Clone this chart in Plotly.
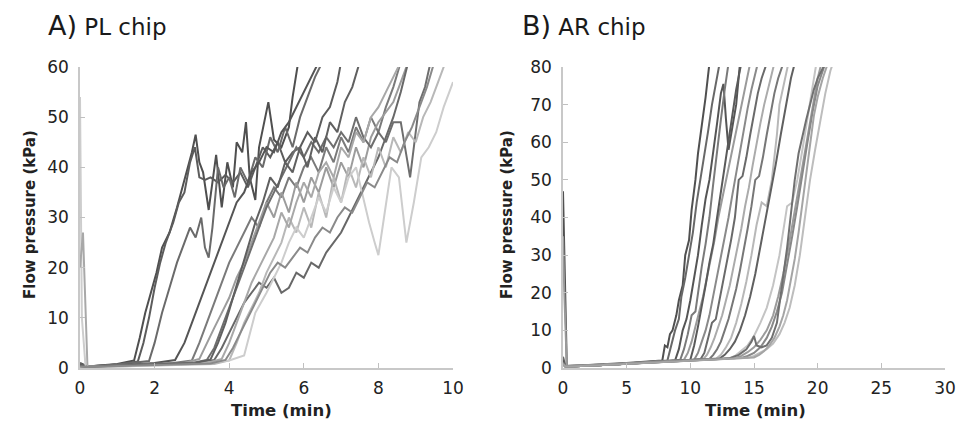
import plotly.graph_objects as go

# ---------------- Panel A: PL chip (time in min, pressure in kPa) ----------------
A1_t = [0, 0.2, 1.0, 1.45, 1.6, 1.75, 1.9, 2.05, 2.2, 2.4, 2.6, 2.75, 2.9, 3.0, 3.1, 3.2, 3.3, 3.45, 3.55, 3.65, 3.8, 3.95, 4.1, 4.2, 4.35, 4.45, 4.55, 4.7, 4.8, 4.95, 5.05, 5.2, 5.4, 5.6, 5.7, 5.85]
A1_p = [1, 0.3, 0.8, 1.5, 6, 11, 15, 19, 24, 27, 32, 36, 40, 43, 46.5, 41, 39, 31.5, 37, 42.5, 32, 41, 36, 45, 43, 49, 38, 33.5, 44, 49, 53, 45.5, 44, 48, 54, 61]

A2_t = [0, 0.2, 1.0, 1.55, 1.7, 1.85, 2.0, 2.15, 2.3, 2.5, 2.65, 2.8, 2.95, 3.08, 3.2, 3.35, 3.5, 3.7, 3.9, 4.1, 4.3, 4.5, 4.7, 4.9, 5.1, 5.3, 5.5, 5.7, 5.9, 6.1, 6.3, 6.5, 6.7, 6.9, 7.0]
A2_p = [0.5, 0.3, 0.7, 1.3, 5, 10, 16, 21, 25, 29, 33, 35, 41, 44, 38, 37.5, 38, 37, 38.5, 37, 39, 36, 40, 44, 42, 45, 41, 43, 44, 47, 45, 50, 52, 57, 61]

A3_t = [0, 0.2, 1.0, 1.85, 2.0, 2.2, 2.4, 2.6, 2.8, 2.95, 3.1, 3.25, 3.35, 3.45, 3.55, 3.7, 3.85, 4.0, 4.15, 4.3, 4.5, 4.7, 4.9, 5.1, 5.3, 5.5, 5.7, 5.9, 6.1, 6.3, 6.5]
A3_p = [0.8, 0.3, 0.7, 1.4, 5, 11, 16, 21, 25, 28, 26, 30, 24, 22, 28, 40, 36, 38, 34, 40, 37, 42, 40, 46, 43, 48, 44, 50, 54, 58, 61]

A4_t = [0, 0.2, 1.0, 2.0, 2.55, 2.8, 3.0, 3.2, 3.4, 3.6, 3.8, 4.0, 4.2, 4.4, 4.6, 4.8, 5.0, 5.2, 5.4, 5.6, 5.8, 6.0, 6.2, 6.4]
A4_p = [0.6, 0.2, 0.5, 1.0, 1.6, 5, 9, 13, 17, 21, 25, 29, 33, 35, 39, 41, 44, 43, 47, 49, 52, 55, 58, 61]

A5_t = [0, 0.2, 1.0, 2.5, 3.0, 3.2, 3.4, 3.6, 3.8, 4.0, 4.2, 4.4, 4.6, 4.8, 5.0, 5.2, 5.4, 5.6, 5.8, 6.0, 6.2, 6.4, 6.6, 6.8, 7.0, 7.2, 7.4, 7.6, 7.8, 8.0, 8.2, 8.4, 8.6]
A5_p = [0.4, 0.2, 0.5, 1.0, 1.5, 5, 9, 13, 17, 21, 24, 27, 30, 28, 33, 36, 34, 38, 36, 40, 42, 39, 44, 41, 46, 43, 48, 45, 50, 47, 52, 56, 61]

A6_t = [0, 0.2, 1.0, 2.8, 3.2, 3.4, 3.6, 3.8, 4.0, 4.2, 4.4, 4.6, 4.8, 5.0, 5.2, 5.4, 5.6, 5.8, 6.0, 6.2, 6.4, 6.6, 6.8, 7.0, 7.2, 7.4, 7.6, 7.8, 8.0, 8.2, 8.4, 8.6, 8.8]
A6_p = [0.3, 0.2, 0.4, 1.0, 1.8, 5, 8, 11, 14, 18, 21, 25, 29, 33, 30, 35, 31, 37, 33, 38, 35, 40, 36, 41, 38, 44, 40, 46, 49, 51, 53, 57, 61]

A7_t = [0, 0.2, 1.0, 3.0, 3.4, 3.6, 3.8, 4.0, 4.2, 4.4, 4.6, 4.8, 5.0, 5.2, 5.4, 5.6, 5.8, 6.0, 6.2, 6.4, 6.6, 6.8, 7.0, 7.2, 7.4, 7.6, 7.8, 8.0, 8.2, 8.4, 8.6, 8.85, 9.1, 9.25, 9.4]
A7_p = [0.4, 0.2, 0.5, 1.0, 1.6, 4, 8, 12, 16, 20, 24, 28, 32, 35, 38, 41, 44, 42, 45, 43, 46, 44, 47, 45, 50, 46, 44, 47, 45, 49, 49, 38, 53, 56, 61]

A8_t = [0, 0.2, 1.0, 3.2, 3.6, 3.8, 4.0, 4.2, 4.4, 4.6, 4.8, 5.0, 5.2, 5.4, 5.6, 5.8, 6.0, 6.2, 6.4, 6.6, 6.8, 7.0, 7.2, 7.4, 7.6, 7.8, 8.0, 8.2, 8.4, 8.6, 8.8]
A8_p = [0.5, 0.2, 0.5, 1.0, 1.6, 4, 7, 10, 13, 15, 17, 16, 18, 15, 16, 19, 18, 21, 20, 23, 25, 27, 30, 33, 36, 39, 42, 46, 50, 55, 61]

A9_t = [0, 0.2, 1.0, 3.6, 4.0, 4.2, 4.4, 4.6, 4.8, 5.0, 5.2, 5.4, 5.6, 5.8, 6.0, 6.2, 6.4, 6.6, 6.8, 7.0, 7.2, 7.4, 7.6, 7.8, 8.0, 8.2, 8.4, 8.6, 8.8, 9.0, 9.2, 9.4, 9.6, 9.8]
A9_p = [0.3, 0.1, 0.3, 0.8, 1.5, 5, 9, 12, 15, 19, 22, 25, 30, 27, 32, 28, 35, 30, 38, 33, 40, 36, 42, 38, 44, 40, 46, 43, 47, 45, 50, 53, 57, 61]

A10_t = [0, 0.05, 0.15, 1.0, 3.0, 4.0, 4.4, 4.55, 4.7, 4.85, 5.0, 5.2, 5.4, 5.6, 5.8, 6.0, 6.2, 6.4, 6.6, 6.8, 7.0, 7.2, 7.4, 7.55, 7.75, 7.9, 8.0, 8.15, 8.35, 8.55, 8.75, 8.95, 9.15, 9.35, 9.55, 9.75, 10.0]
A10_p = [54, 10, 0.2, 0.3, 0.8, 1.5, 2.5, 7, 11, 13, 15, 18, 21, 25, 28, 26, 30, 34, 31, 36, 33, 38, 40, 35, 29, 25, 22.5, 30, 40, 38, 25, 33, 42, 44, 47, 52, 57]

A11_t = [0, 0.08, 0.2, 1.0, 3.4, 3.8, 4.0, 4.2, 4.4, 4.6, 4.8, 5.0, 5.2, 5.4, 5.6, 5.8, 6.0, 6.2, 6.4, 6.6, 6.8, 7.0, 7.2, 7.4, 7.6, 7.8, 8.0, 8.2, 8.4, 8.6]
A11_p = [20, 27, 0.3, 0.5, 1.0, 1.8, 5, 9, 13, 17, 20, 23, 26, 31, 28, 33, 37, 34, 39, 41, 38, 44, 42, 47, 45, 50, 52, 55, 58, 61]

A12_t = [0, 0.2, 1.0, 3.1, 3.5, 3.7, 3.9, 4.1, 4.3, 4.5, 4.7, 4.9, 5.1, 5.3, 5.5, 5.7, 5.9, 6.1, 6.3, 6.5, 6.7, 6.9, 7.1, 7.3, 7.5]
A12_p = [0.4, 0.2, 0.5, 1.0, 1.7, 5, 9, 14, 19, 24, 29, 33, 38, 36, 41, 39, 44, 40, 46, 43, 49, 47, 53, 56, 61]

A13_t = [0, 0.2, 1.0, 3.5, 3.9, 4.1, 4.3, 4.5, 4.7, 4.9, 5.1, 5.3, 5.5, 5.7, 5.9, 6.1, 6.3, 6.5, 6.7, 6.9, 7.1, 7.3, 7.5, 7.7, 7.9, 8.1, 8.3, 8.5, 8.7, 8.9, 9.1, 9.3, 9.5]
A13_p = [0.3, 0.2, 0.4, 0.9, 1.6, 4, 7, 10, 13, 16, 19, 21, 20, 22, 24, 23, 26, 28, 27, 30, 32, 31, 34, 37, 36, 39, 42, 41, 45, 48, 52, 56, 61]

# ---------------- Panel B: AR chip ----------------
B1_t = [0, 0.1, 0.3, 2, 5, 7.8, 8.0, 8.2, 8.4, 8.6, 8.9, 9.1, 9.4, 9.6, 9.9, 10.1, 10.4, 10.6, 10.9, 11.2, 11.5]
B1_p = [47, 30, 0.5, 0.8, 1.3, 2, 6, 5.5, 9, 10, 14, 18, 22, 30, 34, 42, 50, 57, 64, 72, 81]

B2_t = [0, 0.2, 2, 5, 8.2, 8.5, 8.8, 9.1, 9.3, 9.6, 9.9, 10.2, 10.5, 10.8, 11.1, 11.4, 11.7, 12.0, 12.3]
B2_p = [3, 0.5, 0.7, 1.2, 2, 6, 10, 13, 19, 24, 30, 36, 44, 50, 56, 63, 70, 76, 81]

B3_t = [0, 0.2, 2, 5, 8.8, 9.1, 9.4, 9.7, 10.0, 10.3, 10.6, 10.9, 11.2, 11.5, 11.8, 12.1, 12.4, 12.6, 12.8, 13.0, 13.3, 13.6, 13.9]
B3_p = [2, 0.4, 0.6, 1.1, 2, 5, 10, 13, 18, 24, 30, 38, 45, 50, 57, 65, 73, 75.5, 66, 58, 64, 70, 81]

B4_t = [0, 0.2, 2, 5, 9.2, 9.5, 9.8, 10.1, 10.4, 10.6, 10.9, 11.2, 11.5, 11.8, 12.1, 12.4, 12.7, 13.0]
B4_p = [1.5, 0.4, 0.6, 1.1, 2.1, 5, 9, 14, 15, 20, 27, 33, 40, 49, 58, 66, 74, 81]

B5_t = [0, 0.1, 0.3, 2, 5, 9.5, 9.8, 10.1, 10.4, 10.7, 11.0, 11.3, 11.6, 11.9, 12.2, 12.5, 12.8, 13.1, 13.4, 13.7, 14.0, 14.3, 14.7]
B5_p = [35, 20, 0.5, 0.7, 1.2, 2.2, 4, 7, 11, 15, 19, 24, 29, 34, 40, 45, 50, 55, 60, 65, 70, 75, 81]

B6_t = [0, 0.2, 2, 5, 10.0, 10.3, 10.6, 10.9, 11.2, 11.5, 11.8, 12.1, 12.4, 12.7, 13.0, 13.3, 13.6, 14.0]
B6_p = [1, 0.4, 0.6, 1.1, 2.2, 6, 11, 16, 22, 28, 33, 40, 47, 53, 60, 67, 74, 81]

B7_t = [0, 0.2, 2, 5, 10.3, 10.6, 10.9, 11.2, 11.5, 11.8, 12.1, 12.4, 12.7, 13.0, 13.3, 13.6, 13.9, 14.2, 14.5, 14.8, 15.0, 15.3]
B7_p = [1, 0.4, 0.6, 1.1, 2.2, 4, 7, 10, 14, 19, 24, 29, 35, 40, 46, 52, 57, 63, 69, 74, 77, 81]

B8_t = [0, 0.2, 2, 5, 10.8, 11.1, 11.4, 11.7, 12.0, 12.3, 12.6, 12.9, 13.2, 13.5, 13.8, 14.1, 14.4, 14.7, 15.0, 15.3, 15.6, 16.0]
B8_p = [1, 0.4, 0.6, 1.1, 2.3, 4, 8, 12, 13, 18, 23, 28, 34, 40, 50, 51, 56, 62, 68, 73, 77, 81]

B9_t = [0, 0.2, 2, 5, 11.0, 11.3, 11.6, 11.9, 12.2, 12.5, 12.8, 13.1, 13.4, 13.7, 14.0, 14.3, 14.6, 14.9, 15.2, 15.5, 15.8, 16.1, 16.4, 16.6]
B9_p = [1, 0.4, 0.6, 1.1, 2.3, 3.5, 5.5, 8, 11, 14, 18, 22, 27, 32, 37, 43, 48, 54, 60, 65, 70, 74, 78, 81]

B10_t = [0, 0.2, 2, 5, 11.5, 11.8, 12.1, 12.4, 12.7, 13.0, 13.3, 13.6, 13.9, 14.2, 14.5, 14.8, 15.1, 15.4, 15.7, 16.0, 16.3, 16.6, 16.9, 17.3]
B10_p = [1, 0.4, 0.6, 1.1, 2.4, 3.5, 5, 7, 10, 13, 17, 21, 26, 31, 37, 43, 50, 51, 56, 62, 68, 73, 77, 81]

B11_t = [0, 0.2, 2, 5, 12.0, 12.4, 12.8, 13.2, 13.6, 14.0, 14.4, 14.8, 15.2, 15.6, 16.0, 16.4, 16.8, 17.0, 17.3, 17.7]
B11_p = [1, 0.4, 0.6, 1.1, 2.4, 3.5, 5.5, 8, 12, 17, 23, 30, 38, 44, 43, 50, 62, 70, 75, 81]

B12_t = [0, 0.2, 2, 5, 12.3, 12.7, 13.1, 13.5, 13.9, 14.3, 14.7, 15.1, 15.5, 15.9, 16.3, 16.7, 17.1, 17.5, 17.9, 18.2]
B12_p = [1, 0.4, 0.6, 1.1, 2.5, 3.5, 5, 7, 10, 14, 19, 25, 32, 39, 46, 54, 62, 70, 77, 81]

B13_t = [0, 0.2, 2, 5, 13.0, 13.5, 14.0, 14.5, 15.0, 15.5, 16.0, 16.5, 17.0, 17.3, 17.6, 18.0, 18.4, 18.8, 19.2, 19.6, 19.9]
B13_p = [1, 0.4, 0.6, 1.1, 2.5, 3.2, 4.5, 6, 8.5, 12, 16, 22, 30, 36, 43, 44, 50, 58, 66, 74, 81]

B14_t = [0, 0.2, 2, 5, 13.5, 14.0, 14.5, 15.0, 15.5, 16.0, 16.5, 16.9, 17.3, 17.7, 18.1, 18.5, 18.9, 19.3, 19.7, 20.0, 20.3]
B14_p = [1, 0.4, 0.6, 1.1, 2.6, 3.2, 4.2, 5.5, 7.5, 10, 14, 19, 25, 32, 40, 48, 56, 64, 72, 77, 81]

B15_t = [0, 0.2, 2, 5, 14.0, 14.5, 15.0, 15.5, 16.0, 16.4, 16.8, 17.2, 17.6, 18.0, 18.4, 18.8, 19.2, 19.6, 20.0, 20.3, 20.6]
B15_p = [1, 0.4, 0.6, 1.1, 2.7, 3.2, 4, 5.5, 8, 11, 15, 20, 27, 35, 43, 52, 60, 68, 75, 78, 81]

B16_t = [0, 0.2, 2, 5, 14.5, 15.0, 15.5, 16.0, 16.5, 17.0, 17.4, 17.8, 18.2, 18.6, 19.0, 19.4, 19.8, 20.2, 20.6, 21.0, 21.2]
B16_p = [1, 0.4, 0.6, 1.1, 2.7, 3.2, 4, 5, 6.5, 9, 12, 16, 22, 30, 40, 50, 58, 66, 73, 79, 81]

B17_t = [0, 0.2, 2, 5, 13.0, 13.8, 14.4, 14.8, 15.0, 15.2, 15.6, 16.0, 16.4, 16.8, 17.0, 17.3, 17.6, 17.9, 18.2, 18.5, 18.8, 19.1, 19.4, 19.7, 20.0, 20.3, 20.6]
B17_p = [1, 0.4, 0.6, 1.1, 2.5, 3.5, 5, 7, 8.5, 6, 5.5, 6, 8, 12, 17, 24, 32, 41, 50, 57, 62, 66, 70, 74, 77, 79, 81]

B18_t = [0, 0.2, 2, 5, 15.0, 15.4, 15.8, 16.2, 16.6, 17.0, 17.3, 17.6, 17.9, 18.2, 18.5, 18.8, 19.1, 19.4, 19.7, 20.0, 20.4, 20.8]
B18_p = [1, 0.4, 0.6, 1.1, 2.8, 3.5, 4.5, 6, 8, 11, 14, 18, 23, 29, 36, 44, 52, 60, 67, 72, 77, 81]

# tick labels
A_xticks = [0, 2, 4, 6, 8, 10]
A_yticks = [0, 10, 20, 30, 40, 50, 60]
B_xticks = [0, 5, 10, 15, 20, 25, 30]
B_yticks = [0, 10, 20, 30, 40, 50, 60, 70, 80]

A_traces = [(A1_t, A1_p, "#4f4f4f"), (A2_t, A2_p, "#5c5c5c"), (A3_t, A3_p, "#6a6a6a"),
            (A4_t, A4_p, "#555555"), (A5_t, A5_p, "#7a7a7a"), (A6_t, A6_p, "#9c9c9c"),
            (A7_t, A7_p, "#6e6e6e"), (A8_t, A8_p, "#686868"), (A9_t, A9_p, "#b8b8b8"),
            (A10_t, A10_p, "#cdcdcd"), (A11_t, A11_p, "#a8a8a8"), (A12_t, A12_p, "#606060"),
            (A13_t, A13_p, "#8a8a8a")]
B_traces = [(B1_t, B1_p, "#505050"), (B2_t, B2_p, "#686868"), (B3_t, B3_p, "#555555"),
            (B4_t, B4_p, "#7a7a7a"), (B5_t, B5_p, "#9a9a9a"), (B6_t, B6_p, "#5a5a5a"),
            (B7_t, B7_p, "#8a8a8a"), (B8_t, B8_p, "#6a6a6a"), (B9_t, B9_p, "#ababab"),
            (B10_t, B10_p, "#777777"), (B11_t, B11_p, "#b8b8b8"), (B12_t, B12_p, "#606060"),
            (B13_t, B13_p, "#c4c4c4"), (B14_t, B14_p, "#9c9c9c"), (B15_t, B15_p, "#888888"),
            (B16_t, B16_p, "#bdbdbd"), (B17_t, B17_p, "#707070"), (B18_t, B18_p, "#a4a4a4")]

fig = go.Figure()
for t, p, c in A_traces:
    fig.add_trace(go.Scatter(x=t, y=p, mode="lines", line=dict(color=c, width=2),
                             xaxis="x", yaxis="y", showlegend=False, hoverinfo="skip"))
for t, p, c in B_traces:
    fig.add_trace(go.Scatter(x=t, y=p, mode="lines", line=dict(color=c, width=2),
                             xaxis="x2", yaxis="y2", showlegend=False, hoverinfo="skip"))

W, H = 957, 428
def px_x(v):
    return v / W
def px_y(v):
    return 1 - v / H

tickfont = dict(family="DejaVu Sans, sans-serif", size=17, color="#222222")
axis_common = dict(showgrid=False, zeroline=False, showline=True, linecolor="#c8c8c8",
                   linewidth=1.5, ticks="inside", ticklen=5, tickcolor="#c0c0c0",
                   tickwidth=1.2, tickfont=tickfont, automargin=False, fixedrange=True)

fig.update_layout(
    width=W, height=H,
    margin=dict(l=0, r=0, t=0, b=0),
    paper_bgcolor="white", plot_bgcolor="white",
    xaxis=dict(domain=[px_x(80), px_x(453)], range=[0, 10], tickvals=A_xticks,
               anchor="y", ticklabelstandoff=4, **axis_common),
    yaxis=dict(domain=[px_y(368), px_y(67)], range=[0, 60], tickvals=A_yticks,
               anchor="x", ticklabelstandoff=6, **axis_common),
    xaxis2=dict(domain=[px_x(563), px_x(945)], range=[0, 30], tickvals=B_xticks,
                anchor="y2", ticklabelstandoff=4, **axis_common),
    yaxis2=dict(domain=[px_y(368), px_y(67)], range=[0, 80], tickvals=B_yticks,
                anchor="x2", ticklabelstandoff=6, **axis_common),
)

title_font = dict(family="DejaVu Sans, sans-serif", size=23, color="#1a1a1a")
xlabel_font = dict(family="DejaVu Sans, sans-serif", size=16.5, color="#222222")
ylabel_font = dict(family="DejaVu Sans, sans-serif", size=15, color="#222222")
annotations = [
    dict(text="<span style='font-size:27px'>A)</span> PL chip", x=px_x(46), y=px_y(26),
         xref="paper", yref="paper", xanchor="left", yanchor="middle", showarrow=False, font=title_font),
    dict(text="<span style='font-size:27px'>B)</span> AR chip", x=px_x(520), y=px_y(26),
         xref="paper", yref="paper", xanchor="left", yanchor="middle", showarrow=False, font=title_font),
    dict(text="<b>Time (min)</b>", x=px_x(281), y=px_y(410), xref="paper", yref="paper",
         xanchor="center", yanchor="middle", showarrow=False, font=xlabel_font),
    dict(text="<b>Time (min)</b>", x=px_x(755), y=px_y(410), xref="paper", yref="paper",
         xanchor="center", yanchor="middle", showarrow=False, font=xlabel_font),
    dict(text="<b>Flow pressure (kPa)</b>", x=px_x(30), y=px_y(215), xref="paper", yref="paper",
         xanchor="center", yanchor="middle", textangle=-90, showarrow=False, font=ylabel_font),
    dict(text="<b>Flow pressure (kPa)</b>", x=px_x(507), y=px_y(215), xref="paper", yref="paper",
         xanchor="center", yanchor="middle", textangle=-90, showarrow=False, font=ylabel_font),
]
fig.update_layout(annotations=annotations)

# remove the page's default 8px body margin so the figure fills the window exactly
fig.write_html("out.html", config={"displayModeBar": False},
               post_script="document.body.style.margin='0px';document.body.style.overflow='hidden';")
